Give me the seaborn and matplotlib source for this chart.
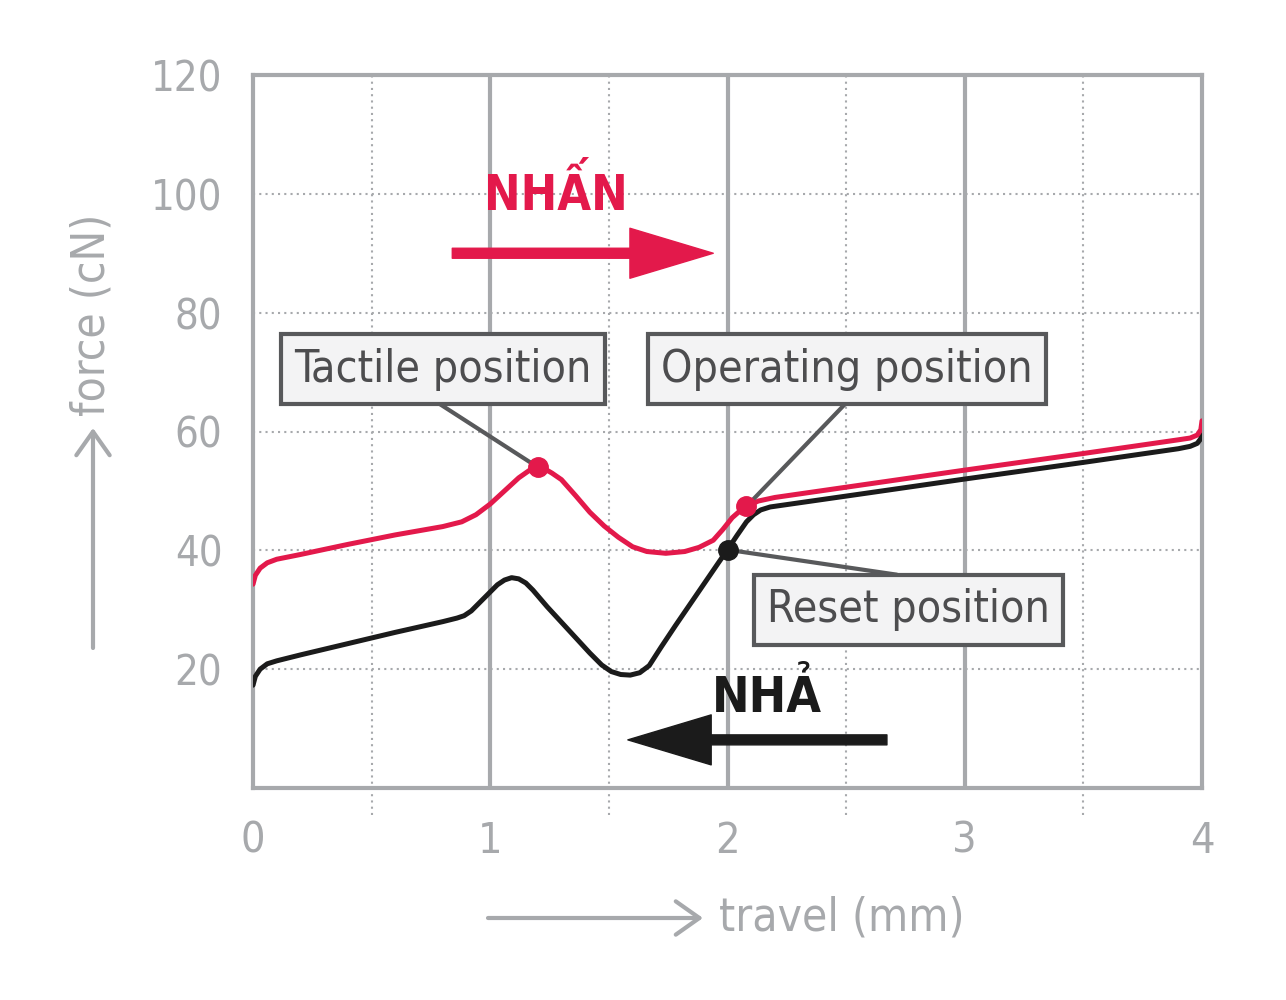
import matplotlib
matplotlib.use("Agg")
import matplotlib.pyplot as plt
import seaborn as sns
import pandas as pd

# press stroke (red) and release stroke (black), travel in mm, force in cN
press_travel = [0.00, 0.01, 0.03, 0.06, 0.10, 0.20, 0.40, 0.60, 0.80, 0.88, 0.94, 1.00,
                1.06, 1.12, 1.17, 1.20, 1.23, 1.26, 1.30, 1.36, 1.42, 1.48, 1.54, 1.60,
                1.66, 1.74, 1.82, 1.88, 1.94, 1.98, 2.02, 2.06, 2.09, 2.13, 2.20, 2.60,
                3.00, 3.50, 3.90, 3.95, 3.98, 3.995, 4.00]
press_force = [34.3, 35.8, 37.0, 37.9, 38.5, 39.3, 41.0, 42.6, 44.0, 44.8, 46.0, 47.8,
               50.0, 52.2, 53.6, 54.0, 53.7, 53.0, 51.9, 49.2, 46.4, 44.1, 42.2, 40.6,
               39.8, 39.5, 39.8, 40.5, 41.7, 43.5, 45.5, 46.9, 47.6, 48.3, 48.9, 51.2,
               53.5, 56.3, 58.6, 58.9, 59.4, 60.3, 61.8]

release_travel = [0.00, 0.01, 0.03, 0.06, 0.10, 0.20, 0.40, 0.60, 0.80, 0.86, 0.89, 0.92,
                  0.96, 1.00, 1.03, 1.06, 1.09, 1.12, 1.15, 1.18, 1.24, 1.30, 1.36, 1.42,
                  1.47, 1.51, 1.55, 1.59, 1.63, 1.67, 1.72, 1.78, 1.84, 1.90, 1.96, 2.00,
                  2.04, 2.08, 2.11, 2.14, 2.18, 2.60, 3.00, 3.50, 3.90, 3.95, 3.98, 3.995,
                  4.00]
release_force = [17.3, 18.8, 20.0, 20.9, 21.4, 22.4, 24.3, 26.2, 28.0, 28.6, 29.0, 29.8,
                 31.4, 33.0, 34.2, 35.0, 35.4, 35.2, 34.5, 33.3, 30.5, 27.9, 25.3, 22.7,
                 20.7, 19.6, 19.1, 19.0, 19.4, 20.6, 23.7, 27.3, 30.8, 34.3, 37.8, 40.1,
                 42.5, 44.8, 46.0, 46.8, 47.3, 49.7, 52.0, 54.8, 57.1, 57.5, 58.0, 58.8,
                 60.3]

# marked points: tactile, operating, reset
tactile_pt = (1.20, 54.0)
operating_pt = (2.08, 47.4)
reset_pt = (2.00, 40.1)

x_ticks = [0, 1, 2, 3, 4]
y_ticks = [0, 20, 40, 60, 80, 100, 120]
y_tick_labels = ["", "20", "40", "60", "80", "100", "120"]

RED = "#e3194b"
BLACK = "#1b1b1b"
GRAY = "#a7a9ac"
DARK = "#58595b"

sns.set_style("white")
plt.rcParams["font.family"] = ["DejaVu Sans"]
plt.rcParams["font.stretch"] = "condensed"

fig = plt.figure(figsize=(12.86, 10), dpi=100)
ax = fig.add_axes([253 / 1286, 212 / 1000, 949 / 1286, 713 / 1000])
ax.set_xlim(0, 4)
ax.set_ylim(0, 120)

for s in ax.spines.values():
    s.set_color(GRAY)
    s.set_linewidth(3)
    s.set_zorder(1)

ax.set_xticks(x_ticks)
ax.set_xticklabels([str(t) for t in x_ticks])
ax.set_yticks(y_ticks)
ax.set_yticklabels(y_tick_labels)
ax.tick_params(axis="y", length=15, width=3, color=GRAY, pad=7,
               labelsize=30, labelcolor=GRAY)
ax.tick_params(axis="x", length=19, width=3, color=GRAY, pad=4,
               labelsize=31, labelcolor=GRAY)

# grid
for y in y_ticks[1:-1]:
    ax.axhline(y, color=GRAY, lw=1.5, ls=(0, (1, 2)), zorder=0)
for x in x_ticks[1:-1]:
    ax.axvline(x, color=GRAY, lw=3, zorder=0)
ax.vlines([0.5, 1.5, 2.5, 3.5], -0.038, 1, transform=ax.get_xaxis_transform(),
          color=GRAY, lw=1.5, ls=(0, (1, 2)), zorder=0, clip_on=False)

press = pd.DataFrame({"travel": press_travel, "force": press_force})
release = pd.DataFrame({"travel": release_travel, "force": release_force})
sns.lineplot(data=release, x="travel", y="force", sort=False, estimator=None,
             color=BLACK, lw=3.6, ax=ax, zorder=3)
sns.lineplot(data=press, x="travel", y="force", sort=False, estimator=None,
             color=RED, lw=3.6, ax=ax, zorder=3)
ax.set_xlabel("")
ax.set_ylabel("")

# callouts
box = dict(boxstyle="square,pad=0.3", fc="#f3f3f4", ec=DARK, lw=3)
callouts = [
    ("Tactile position", (0.801, 70.5), (0.788, 64.6), tactile_pt, RED),
    ("Operating position", (2.504, 70.5), (2.495, 64.6), operating_pt, RED),
    ("Reset position", (2.763, 30.0), (2.714, 35.9), reset_pt, BLACK),
]
for label, center, start, pt, c in callouts:
    ax.plot([start[0], pt[0]], [start[1], pt[1]], color=DARK, lw=3, zorder=4)
    ax.plot(*pt, "o", ms=14, color=c, zorder=5)
    ax.text(*center, label, ha="center", va="center", fontsize=32,
            color="#4d4d4f", bbox=box, zorder=6)

# direction arrows
ax.text(1.277, 97.3, "NHẤN", color=RED, fontsize=35, weight="bold",
        ha="center", va="baseline")
ax.annotate("", xy=(1.94, 90), xytext=(0.84, 90),
            arrowprops=dict(arrowstyle="simple,head_length=3.0,head_width=1.8,tail_width=0.36",
                            color=RED, shrinkA=0, shrinkB=0, mutation_scale=20))
ax.text(2.166, 12.8, "NHẢ", color=BLACK, fontsize=36, weight="bold",
        ha="center", va="baseline")
ax.annotate("", xy=(1.58, 8.1), xytext=(2.672, 8.1),
            arrowprops=dict(arrowstyle="simple,head_length=3.0,head_width=1.8,tail_width=0.36",
                            color=BLACK, shrinkA=0, shrinkB=0, mutation_scale=20))

# axis titles with arrows
arrow_style = dict(arrowstyle="->,head_length=0.85,head_width=0.6", color=GRAY,
                   lw=3, shrinkA=0, shrinkB=0, mutation_scale=20)
fig.text(92 / 1286, 1 - 315 / 1000, "force (cN)", rotation=90, ha="center",
         va="center", fontsize=33, color=GRAY)
ax.annotate("", xy=(93, 1000 - 428), xytext=(93, 1000 - 648),
            xycoords="figure pixels", textcoords="figure pixels", arrowprops=arrow_style)
fig.text(842 / 1286, 1 - 918 / 1000, "travel (mm)", ha="center", va="center",
         fontsize=33, color=GRAY)
ax.annotate("", xy=(703, 1000 - 918), xytext=(488, 1000 - 918),
            xycoords="figure pixels", textcoords="figure pixels", arrowprops=arrow_style)

fig.savefig("out.png", dpi=100)
